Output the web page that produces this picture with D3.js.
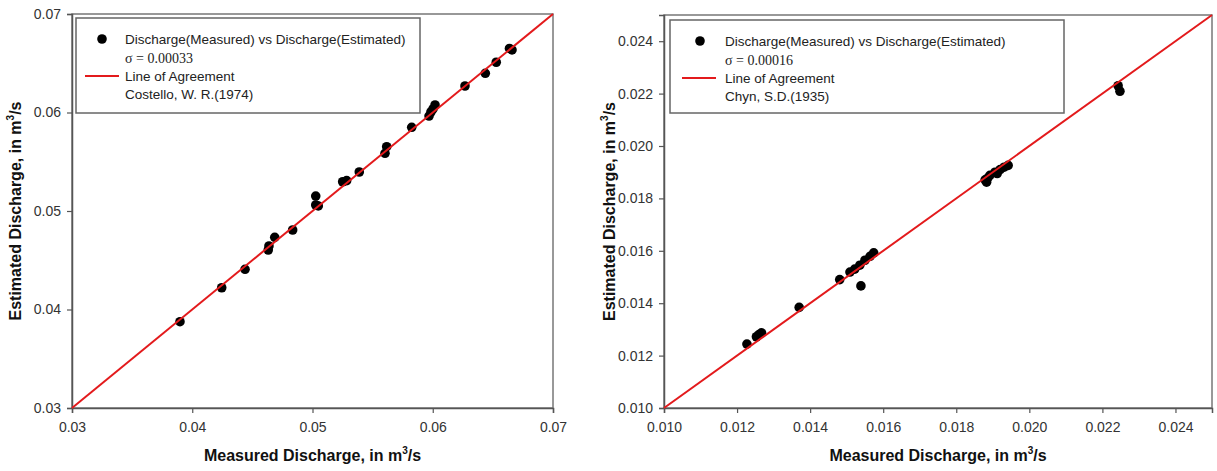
<!DOCTYPE html>
<html>
<head>
<meta charset="utf-8">
<script src="https://cdn.jsdelivr.net/npm/d3@7"></script>
<style>
  body { margin: 0; background: #fff; }
  text { font-family: "Liberation Sans", Arial, sans-serif; }
</style>
</head>
<body>
<div id="app"></div>
<script>

// left panel: Costello, W. R.(1974)
var leftMeasured  = [0.03898, 0.04245, 0.04439, 0.04632, 0.04638, 0.04686, 0.04835, 0.05027, 0.05048, 0.05027,
                     0.05251, 0.05284, 0.05389, 0.05603, 0.05617, 0.05825, 0.05969, 0.05985, 0.06002, 0.06019,
                     0.06268, 0.06437, 0.06528, 0.06638, 0.06659];
var leftEstimated = [0.03876, 0.04221, 0.04408, 0.04604, 0.04645, 0.04733, 0.04807, 0.05152, 0.05051, 0.05061,
                     0.05297, 0.05308, 0.05396, 0.05586, 0.05653, 0.05850, 0.05964, 0.06005, 0.06036, 0.06076,
                     0.06269, 0.06398, 0.06510, 0.06650, 0.06635];
var leftTicks = [0.03, 0.04, 0.05, 0.06, 0.07];
var leftLegend = ["Discharge(Measured) vs Discharge(Estimated)", "\u03c3 = 0.00033", "Line of Agreement", "Costello, W. R.(1974)"];

// right panel: Chyn, S.D.(1935)
var rightMeasured  = [0.01227, 0.01253, 0.01267, 0.01260, 0.01370, 0.01481, 0.01509, 0.01522, 0.01536, 0.01550,
                      0.01564, 0.01574, 0.01539, 0.01879, 0.01883, 0.01892, 0.01906, 0.01920, 0.01931, 0.01942,
                      0.01886, 0.01912, 0.02243, 0.02248];
var rightEstimated = [0.01244, 0.01272, 0.01287, 0.01280, 0.01384, 0.01490, 0.01519, 0.01530, 0.01545, 0.01564,
                      0.01579, 0.01592, 0.01466, 0.01871, 0.01862, 0.01888, 0.01900, 0.01910, 0.01919, 0.01926,
                      0.01877, 0.01895, 0.02230, 0.02209];
var rightTicks = [0.010, 0.012, 0.014, 0.016, 0.018, 0.020, 0.022, 0.024];
var rightLegend = ["Discharge(Measured) vs Discharge(Estimated)", "\u03c3 = 0.00016", "Line of Agreement", "Chyn, S.D.(1935)"];

var svg = d3.select("#app")
    .append("svg")
    .attr("width", 1217)
    .attr("height", 471);

function axisTitle(g, str, x, y, rotate) {
    var t = g.append("text")
	.attr("transform", "translate(" + x + "," + y + ")" + (rotate ? " rotate(-90)" : ""))
	.attr("text-anchor", "middle")
	.style("font-size", "16px")
	.style("font-weight", "bold")
	.style("fill", "#111");
    t.append("tspan").text(str);
    t.append("tspan").attr("dy", -7).style("font-size", "10px").text("3");
    t.append("tspan").attr("dy", 7).text("/s");
}

function panel(p) {
    var x = d3.scaleLinear().domain(p.domain).range([p.left, p.right]);
    var y = d3.scaleLinear().domain(p.domain).range([p.bottom, p.top]);
    var fmt = d3.format(p.fmt);
    var g = svg.append("g");

    // frame
    g.append("rect")
	.attr("x", p.left).attr("y", p.top)
	.attr("width", p.right - p.left).attr("height", p.bottom - p.top)
	.style("fill", "none").style("stroke", "#777").style("stroke-width", 1.5);

    var xa = g.append("g")
	.attr("transform", "translate(0," + p.bottom + ")")
	.call(d3.axisBottom(x).tickValues(p.ticks).tickSize(5).tickPadding(9).tickFormat(fmt));
    var ya = g.append("g")
	.attr("transform", "translate(" + p.left + ",0)")
	.call(d3.axisLeft(y).tickValues(p.ticks).tickSize(5).tickPadding(6).tickFormat(fmt));
    [xa, ya].forEach(function (a) {
	a.select(".domain").style("stroke", "#555").style("stroke-width", 1.5);
	a.selectAll(".tick line").style("stroke", "#555").style("stroke-width", 1.2);
	a.selectAll(".tick text")
	    .style("font-family", "'Liberation Sans', Arial, sans-serif")
	    .style("font-size", "14px").style("fill", "#333");
    });

    // points
    g.selectAll("circle.pt")
	.data(p.measured)
	.enter()
	.append("circle")
	.attr("class", "pt")
	.attr("cx", function (d) { return x(d); })
	.attr("cy", function (d, i) { return y(p.estimated[i]); })
	.attr("r", 4.8)
	.style("fill", "#000");

    // line of agreement
    g.append("line")
	.attr("x1", x(p.domain[0])).attr("y1", y(p.domain[0]))
	.attr("x2", x(p.domain[1])).attr("y2", y(p.domain[1]))
	.style("stroke", "#e31a1c").style("stroke-width", 2);

    // legend
    var L = p.legendBox;
    g.append("rect")
	.attr("x", L.x).attr("y", L.y).attr("width", L.w).attr("height", L.h)
	.style("fill", "#fff").style("stroke", "#666").style("stroke-width", 1.5);
    g.append("circle")
	.attr("cx", L.dotX).attr("cy", L.y + 21).attr("r", 4.8).style("fill", "#000");
    g.append("line")
	.attr("x1", L.lineX).attr("x2", L.lineX + 34)
	.attr("y1", L.y + 58).attr("y2", L.y + 58)
	.style("stroke", "#e31a1c").style("stroke-width", 2);
    var rows = [21, 40, 58, 76];
    g.selectAll("text.leg")
	.data(p.legend)
	.enter()
	.append("text")
	.attr("class", "leg")
	.attr("x", L.textX)
	.attr("y", function (d, i) { return L.y + rows[i] + 5; })
	.style("font-size", function (d, i) { return i == 1 ? "14px" : "13.5px"; })
	.style("font-family", function (d, i) {
	    return i == 1 ? "'Liberation Serif', 'Times New Roman', serif" : "'Liberation Sans', Arial, sans-serif";
	})
	.style("fill", "#222")
	.text(function (d) { return d; });

    axisTitle(g, "Estimated Discharge, in m", p.yTitleX, (p.top + p.bottom) / 2, true);
    axisTitle(g, "Measured Discharge, in m", (p.left + p.right) / 2, 461, false);
}

panel({
    domain: [0.03, 0.07], ticks: leftTicks, fmt: ".2f",
    left: 72, right: 553, top: 14, bottom: 408,
    measured: leftMeasured, estimated: leftEstimated, legend: leftLegend,
    legendBox: { x: 76, y: 18, w: 344, h: 95, dotX: 102, lineX: 85, textX: 125 },
    yTitleX: 21
});

panel({
    domain: [0.010, 0.025], ticks: rightTicks, fmt: ".3f",
    left: 664, right: 1212, top: 15, bottom: 408,
    measured: rightMeasured, estimated: rightEstimated, legend: rightLegend,
    legendBox: { x: 670, y: 20, w: 394, h: 93, dotX: 700, lineX: 682, textX: 725 },
    yTitleX: 615
});

</script>
</body>
</html>
